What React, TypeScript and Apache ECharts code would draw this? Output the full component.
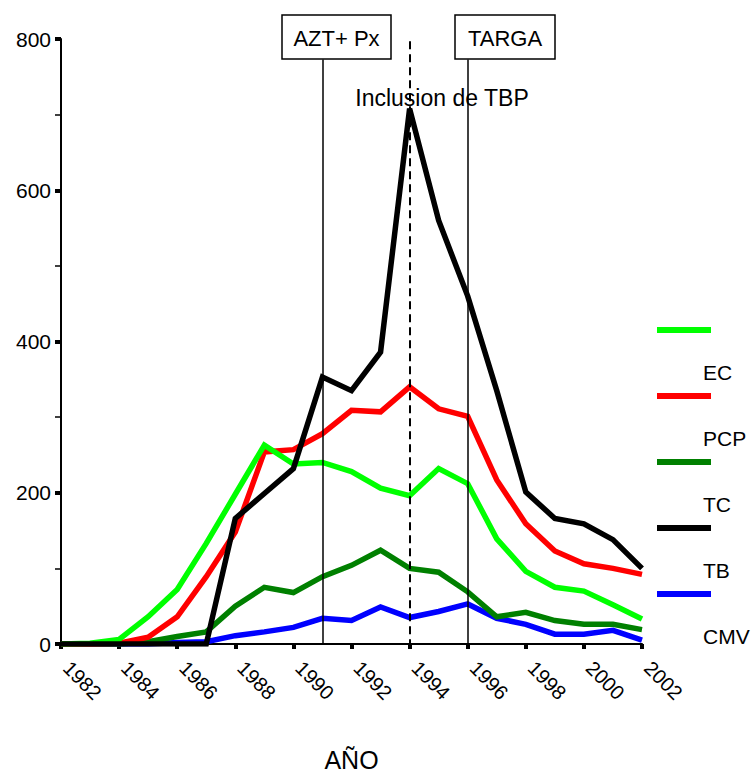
import React, { useEffect, useRef } from "react";
import * as echarts from "echarts";

const years = [1982, 1983, 1984, 1985, 1986, 1987, 1988, 1989, 1990, 1991, 1992, 1993, 1994, 1995, 1996, 1997, 1998, 1999, 2000, 2001, 2002];
const ecValues = [0, 1, 6, 36, 72, 133, 198, 263, 238, 240, 228, 206, 196, 232, 212, 139, 96, 75, 70, 52, 33];
const pcpValues = [0, 0, 1, 9, 36, 89, 148, 254, 257, 278, 309, 307, 340, 311, 301, 217, 159, 123, 106, 100, 92];
const tcValues = [0, 0, 0, 3, 10, 16, 50, 75, 68, 89, 104, 124, 100, 95, 69, 36, 42, 31, 26, 26, 19];
const tbValues = [0, 0, 0, 0, 0, 0, 166, 199, 232, 353, 335, 386, 708, 560, 460, 335, 201, 166, 159, 138, 100];
const cmvValues = [0, 0, 0, 0, 2, 3, 11, 16, 22, 34, 31, 49, 35, 43, 53, 34, 26, 13, 13, 18, 5];

const seriesNames = ["EC", "PCP", "TC", "TB", "CMV"];
const seriesColors = ["#00ff00", "#ff0000", "#008000", "#000000", "#0000ff"];
const seriesValues = [ecValues, pcpValues, tcValues, tbValues, cmvValues];
const drawOrder = [4, 2, 1, 0, 3];

const yMin = 0;
const yMax = 800;
const yStep = 200;
const xMin = 1982;
const xMax = 2002;
const xStep = 2;

const eventYears = [1991, 1996];
const eventLabels = ["AZT+ Px", "TARGA"];
const tbpYear = 1994;
const tbpLabel = "Inclusion de TBP";
const axisTitle = "AÑO";

const FONT = "'Liberation Sans', Arial, sans-serif";

export default function App() {
  const ref = useRef<HTMLDivElement>(null);
  useEffect(() => {
    if (!ref.current) return;
    const chart = echarts.init(ref.current, null, { renderer: "svg" });

    const series: any[] = drawOrder.map((si) => ({
      name: seriesNames[si],
      type: "line",
      symbol: "none",
      showSymbol: false,
      data: years.map((y, i) => [y, seriesValues[si][i]]),
      lineStyle: { color: seriesColors[si], width: 5.5, join: "miter" },
      itemStyle: { color: seriesColors[si] },
      z: 3,
    }));

    series.push({
      name: "marks",
      type: "line",
      data: [],
      z: 2,
      markLine: {
        symbol: ["none", "none"],
        silent: true,
        animation: false,
        label: { show: false },
        data: [
          [
            { coord: [eventYears[0], 773], lineStyle: { color: "#000", width: 1.5, type: "solid" } },
            { coord: [eventYears[0], 0] },
          ],
          [
            { coord: [eventYears[1], 773], lineStyle: { color: "#000", width: 1.5, type: "solid" } },
            { coord: [eventYears[1], 0] },
          ],
          [
            { coord: [tbpYear, 797], lineStyle: { color: "#000", width: 2, type: [8, 5] } },
            { coord: [tbpYear, 0] },
          ],
        ],
      },
    });

    const graphic: any[] = [];
    const boxes = [
      { x: 282, w: 109 },
      { x: 455, w: 100 },
    ];
    boxes.forEach((b, i) => {
      graphic.push({
        type: "rect",
        shape: { x: b.x, y: 15, width: b.w, height: 44 },
        style: { fill: "#fff", stroke: "#000", lineWidth: 1.5 },
        z: 10,
      });
      graphic.push({
        type: "text",
        x: b.x + b.w / 2,
        y: 38,
        style: {
          text: eventLabels[i],
          fill: "#000",
          fontSize: 22,
          fontFamily: FONT,
          align: "center",
          verticalAlign: "middle",
        },
        z: 11,
      });
    });
    graphic.push({
      type: "text",
      x: 442,
      y: 98,
      style: {
        text: tbpLabel,
        fill: "#000",
        fontSize: 23,
        fontFamily: FONT,
        align: "center",
        verticalAlign: "middle",
      },
      z: 11,
    });
    seriesNames.forEach((name, i) => {
      const ly = 330 + 66 * i;
      graphic.push({
        type: "line",
        shape: { x1: 657, y1: ly, x2: 711, y2: ly },
        style: { stroke: seriesColors[i], lineWidth: 6 },
        z: 10,
      });
      graphic.push({
        type: "text",
        x: 703,
        y: ly + 42,
        style: {
          text: name,
          fill: "#000",
          fontSize: 21,
          fontFamily: FONT,
          align: "left",
          verticalAlign: "middle",
        },
        z: 10,
      });
    });

    chart.setOption({
      animation: false,
      backgroundColor: "#fff",
      grid: {
        left: 61,
        right: 114,
        top: 39,
        bottom: 129,
        containLabel: false,
        outerBoundsMode: "none",
      },
      xAxis: {
        type: "value",
        min: xMin,
        max: xMax,
        interval: xStep,
        name: axisTitle,
        nameLocation: "middle",
        nameGap: 103,
        nameTextStyle: { color: "#000", fontSize: 25, fontFamily: FONT },
        axisLine: { show: true, onZero: false, lineStyle: { color: "#000", width: 2 } },
        axisTick: { show: true, length: 5, lineStyle: { color: "#000", width: 4 } },
        splitLine: { show: false },
        axisLabel: {
          color: "#000",
          fontSize: 20,
          fontFamily: FONT,
          rotate: -45,
          margin: 15,
          padding: [0, 0, 0, 8],
          formatter: (v: number) => String(v),
        },
      },
      yAxis: {
        type: "value",
        min: yMin,
        max: yMax,
        interval: yStep,
        axisLine: { show: true, onZero: false, lineStyle: { color: "#000", width: 2 } },
        axisTick: { show: true, length: 6, lineStyle: { color: "#000", width: 4 } },
        minorTick: { show: true, splitNumber: 2, length: 6, lineStyle: { color: "#000", width: 1.5 } },
        splitLine: { show: false },
        minorSplitLine: { show: false },
        axisLabel: {
          color: "#000",
          fontSize: 21,
          fontFamily: FONT,
          margin: 10,
          formatter: (v: number) => String(v),
        },
      },
      graphic,
      series,
    });
    return () => chart.dispose();
  }, []);
  return (
    <div
      ref={ref}
      style={{ position: "absolute", left: 0, top: 0, width: 756, height: 773, background: "#fff" }}
    />
  );
}
